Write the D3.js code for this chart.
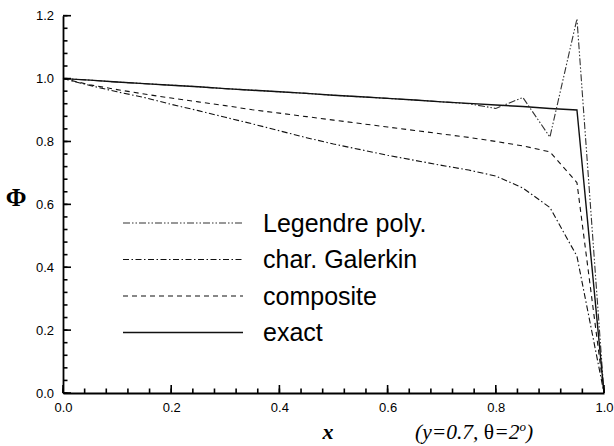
<!DOCTYPE html>
<html>
<head>
<meta charset="utf-8">
<script src="https://cdn.jsdelivr.net/npm/d3@7"></script>
<style>
  html, body { margin: 0; padding: 0; background: #fff; }
  svg { display: block; }
</style>
</head>
<body>
<svg id="chart" width="614" height="446" viewBox="0 0 614 446"></svg>
<script>
// Sample positions along x
const xs = [0, 0.05, 0.1, 0.15, 0.2, 0.25, 0.3, 0.35, 0.4, 0.45, 0.5,
            0.55, 0.6, 0.65, 0.7, 0.75, 0.8, 0.85, 0.9, 0.95, 1.0];

// Phi profiles at y = 0.7, theta = 2 deg
const exact = [1.0, 0.995, 0.989, 0.984, 0.979, 0.974, 0.968, 0.963, 0.958, 0.953, 0.947,
               0.942, 0.937, 0.932, 0.926, 0.921, 0.916, 0.911, 0.905, 0.900, 0.0];
const composite = [1.0, 0.980, 0.965, 0.951, 0.938, 0.926, 0.914, 0.901, 0.890, 0.879, 0.868,
                   0.857, 0.846, 0.835, 0.824, 0.813, 0.800, 0.786, 0.767, 0.669, 0.0];
const charGalerkin = [1.0, 0.978, 0.958, 0.940, 0.918, 0.898, 0.877, 0.856, 0.834, 0.812, 0.792,
                      0.774, 0.756, 0.740, 0.724, 0.709, 0.690, 0.652, 0.590, 0.435, 0.0];
const legendre = [1.0, 0.995, 0.989, 0.984, 0.979, 0.974, 0.968, 0.963, 0.958, 0.953, 0.947,
                  0.942, 0.937, 0.932, 0.926, 0.920, 0.905, 0.940, 0.814, 1.190, 0.0];

const seriesNames = ["Legendre poly.", "char. Galerkin", "composite", "exact"];
const seriesValues = [legendre, charGalerkin, composite, exact];
const seriesDash = ["7,2,1.5,2,1.5,2", "6,2.5,1.5,2.5", "5,4", null];

const xTicks = [0, 0.2, 0.4, 0.6, 0.8, 1.0];
const yTicks = [0, 0.2, 0.4, 0.6, 0.8, 1.0, 1.2];

const svg = d3.select("#chart");
const x = d3.scaleLinear().domain([0, 1]).range([63, 604]);
const y = d3.scaleLinear().domain([0, 1.2]).range([393, 15.7]);

const fmt = d3.format(".1f");
const minorX = d3.range(0, 1.0001, 0.04);
const minorY = d3.range(0, 1.2001, 0.04);

// Axes (domain line + labels)
const xAxis = svg.append("g").attr("transform", `translate(0,${y(0)})`)
  .call(d3.axisBottom(x).tickValues(xTicks).tickSize(0).tickPadding(10).tickFormat(fmt));
const yAxis = svg.append("g").attr("transform", `translate(${x(0)},0)`)
  .call(d3.axisLeft(y).tickValues(yTicks).tickSize(0).tickPadding(9).tickFormat(fmt));

[xAxis, yAxis].forEach(g => {
  g.selectAll("text").attr("font-family", "'Liberation Sans', Arial, sans-serif")
    .attr("font-size", 13).attr("fill", "#000");
  g.select(".domain").attr("stroke", "#000").attr("stroke-width", 1.8);
});

// Curves
const line = d3.line().x((d, i) => x(xs[i])).y(d => y(d));
seriesValues.forEach((vals, k) => {
  svg.append("path").datum(vals)
    .attr("d", line)
    .attr("fill", "none")
    .attr("stroke", k === 0 ? "#333" : "#111")
    .attr("stroke-width", k === 3 ? 1.4 : 1.1)
    .attr("stroke-dasharray", seriesDash[k]);
});

// Legend
const legY = [223, 259.5, 296, 332.5];
seriesNames.forEach((name, k) => {
  svg.append("line")
    .attr("x1", 123).attr("x2", 243)
    .attr("y1", legY[k]).attr("y2", legY[k])
    .attr("stroke", k === 0 ? "#333" : "#111")
    .attr("stroke-width", k === 3 ? 1.4 : 1.1)
    .attr("stroke-dasharray", seriesDash[k]);
  svg.append("text")
    .attr("x", 263).attr("y", legY[k] + 8.5)
    .attr("font-family", "'Liberation Sans', Arial, sans-serif")
    .attr("font-size", 25).attr("fill", "#000")
    .text(name);
});

// Axis titles
svg.append("text")
  .attr("x", 16).attr("y", 206).attr("text-anchor", "middle")
  .attr("font-family", "'Liberation Serif', 'Times New Roman', serif")
  .attr("font-size", 25).attr("font-weight", "bold").attr("fill", "#000")
  .text("Φ");
svg.append("text")
  .attr("x", 328).attr("y", 439).attr("text-anchor", "middle")
  .attr("font-family", "'Liberation Serif', 'Times New Roman', serif")
  .attr("font-size", 22).attr("font-style", "italic").attr("font-weight", "bold").attr("fill", "#000")
  .text("x");

const note = svg.append("text")
  .attr("x", 415).attr("y", 439)
  .attr("font-family", "'Liberation Serif', 'Times New Roman', serif")
  .attr("font-size", 21.5).attr("font-style", "italic").attr("fill", "#000");
note.append("tspan").text("(y=0.7, ");
note.append("tspan").attr("font-style", "normal").text("θ");
note.append("tspan").text("=2");
note.append("tspan").attr("font-size", 13).attr("dy", -8).text("o");
note.append("tspan").attr("dy", 8).text(")");

// Inward tick marks, drawn last so they sit on top
const tickG = svg.append("g").attr("stroke", "#000").attr("stroke-width", 1.6)
  .attr("stroke-linecap", "butt");
const tickSpecs = [
  { vals: minorX, horiz: false, len: 4.5 },
  { vals: xTicks, horiz: false, len: 8 },
  { vals: minorY, horiz: true, len: 4.5 },
  { vals: yTicks, horiz: true, len: 8 }
];
tickSpecs.forEach(spec => {
  tickG.append("g").selectAll("line").data(spec.vals).enter().append("line")
    .attr("x1", d => spec.horiz ? x(0) : x(d))
    .attr("x2", d => spec.horiz ? x(0) + spec.len : x(d))
    .attr("y1", d => spec.horiz ? y(d) : y(0))
    .attr("y2", d => spec.horiz ? y(d) : y(0) - spec.len);
});
</script>
</body>
</html>
